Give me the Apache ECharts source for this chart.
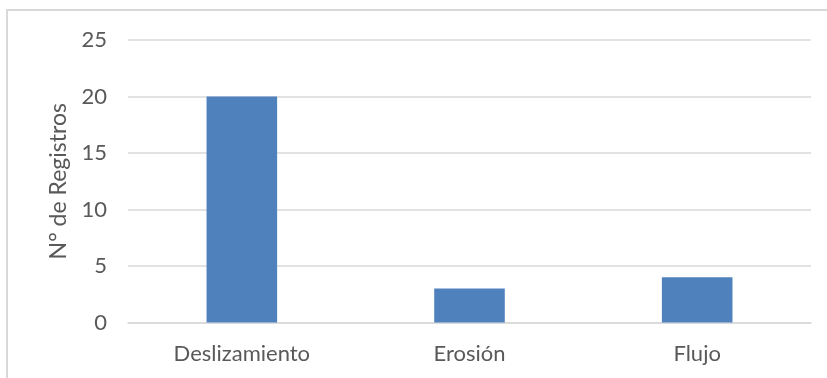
<!DOCTYPE html>
<html>
<head>
<meta charset="utf-8">
<script src="https://cdn.jsdelivr.net/npm/echarts@6/dist/echarts.min.js"></script>
<style>
  html, body { margin: 0; padding: 0; background: #fff; }
  #chart { width: 827px; height: 378px; }
</style>
</head>
<body>
<div id="chart"></div>
<script>
const categories = ['Deslizamiento', 'Erosión', 'Flujo']
const registros = [20, 3, 4]
const yTicks = [0, 5, 10, 15, 20, 25]

const textColor = '#595959'
const gridColor = '#d9d9d9'
const font = 'Lato, "Open Sans", sans-serif'

const chart = echarts.init(document.getElementById('chart'), null, { renderer: 'canvas' })
chart.setOption({
  animation: false,
  graphic: [{
    type: 'rect',
    shape: { x: 7, y: 10, width: 900, height: 420 },
    style: { fill: 'none', stroke: gridColor, lineWidth: 2 },
    silent: true,
  }],
  grid: { left: 128, right: 16, top: 40, bottom: 55.5 },
  xAxis: {
    type: 'category',
    data: categories,
    axisLine: { lineStyle: { color: gridColor, width: 1.5 } },
    axisTick: { show: false },
    axisLabel: { color: textColor, fontFamily: font, fontSize: 22, margin: 20 },
  },
  yAxis: {
    type: 'value',
    min: yTicks[0],
    max: yTicks[yTicks.length - 1],
    interval: 5,
    name: 'N° de Registros',
    nameLocation: 'middle',
    nameGap: 58,
    nameTextStyle: { color: textColor, fontFamily: font, fontSize: 23 },
    axisLine: { show: false },
    axisTick: { show: false },
    splitLine: { lineStyle: { color: gridColor, width: 1.5 } },
    axisLabel: { color: textColor, fontFamily: font, fontSize: 22, margin: 21 },
  },
  series: [{
    type: 'bar',
    data: registros,
    barWidth: '31%',
    itemStyle: { color: '#4f81bd' },
  }],
})
</script>
</body>
</html>
